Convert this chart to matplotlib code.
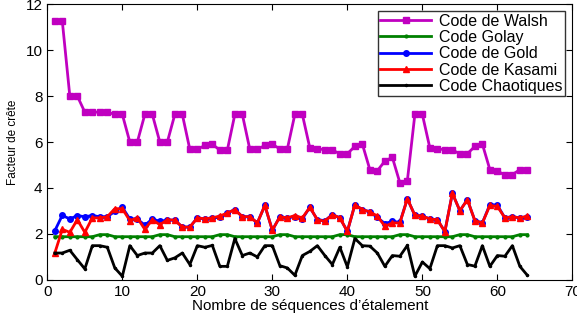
import numpy as np
import matplotlib
matplotlib.use('Agg')
import matplotlib.pyplot as plt

plt.rcParams['font.family'] = ['Liberation Sans', 'DejaVu Sans']

# nombre de sequences 1..64
n = list(range(1, 65))

walsh = [11.25, 11.25, 8.0, 8.0, 7.3, 7.3, 7.3, 7.3, 7.2, 7.2,
         6.0, 6.0, 7.2, 7.2, 6.0, 6.0, 7.2, 7.2, 5.68, 5.68,
         5.85, 5.9, 5.65, 5.65, 7.2, 7.2, 5.68, 5.68, 5.85, 5.9,
         5.7, 5.7, 7.2, 7.2, 5.74, 5.7, 5.67, 5.65, 5.49, 5.49,
         5.81, 5.91, 4.8, 4.75, 5.17, 5.33, 4.23, 4.32, 7.2, 7.2,
         5.74, 5.7, 5.67, 5.65, 5.49, 5.49, 5.81, 5.91, 4.8, 4.75,
         4.55, 4.58, 4.8, 4.77]

golay = [1.88, 1.88, 1.88, 1.88, 1.88, 1.88, 1.97, 1.97, 1.88, 1.88,
         1.88, 1.88, 1.88, 1.88, 1.97, 1.97, 1.88, 1.88, 1.88, 1.88,
         1.88, 1.88, 1.97, 1.97, 1.88, 1.88, 1.88, 1.88, 1.88, 1.88,
         1.97, 1.97, 1.88, 1.88, 1.88, 1.88, 1.88, 1.88, 1.97, 1.97,
         1.88, 1.88, 1.88, 1.88, 1.88, 1.88, 1.97, 1.97, 1.88, 1.88,
         1.88, 1.88, 1.88, 1.88, 1.97, 1.97, 1.88, 1.88, 1.88, 1.88,
         1.88, 1.88, 1.97, 1.97]

gold = [2.14, 2.81, 2.65, 2.8, 2.75, 2.8, 2.75, 2.75, 2.98, 3.16,
        2.65, 2.65, 2.38, 2.65, 2.55, 2.6, 2.6, 2.3, 2.3, 2.7,
        2.65, 2.7, 2.72, 2.91, 3.06, 2.75, 2.75, 2.48, 3.24, 2.16,
        2.75, 2.7, 2.75, 2.66, 3.16, 2.62, 2.58, 2.84, 2.7, 2.11,
        3.27, 3.06, 2.96, 2.72, 2.45, 2.55, 2.5, 3.53, 2.81, 2.78,
        2.65, 2.62, 2.1, 3.77, 3.01, 3.49, 2.58, 2.48, 3.28, 3.25,
        2.7, 2.75, 2.7, 2.72]

kasami = [1.17, 2.2, 2.07, 2.62, 2.07, 2.7, 2.7, 2.75, 3.1, 3.1,
          2.58, 2.7, 2.2, 2.62, 2.4, 2.62, 2.6, 2.3, 2.3, 2.7,
          2.66, 2.7, 2.78, 2.91, 3.06, 2.75, 2.75, 2.48, 3.24, 2.16,
          2.75, 2.7, 2.8, 2.7, 3.16, 2.62, 2.55, 2.84, 2.7, 2.11,
          3.27, 3.06, 2.96, 2.78, 2.33, 2.48, 2.48, 3.53, 2.81, 2.78,
          2.65, 2.62, 2.1, 3.77, 3.01, 3.49, 2.58, 2.48, 3.24, 3.2,
          2.7, 2.75, 2.7, 2.78]

chaos = [1.17, 1.17, 1.29, 0.88, 0.48, 1.49, 1.49, 1.42, 0.52, 0.16,
         1.49, 1.06, 1.17, 1.17, 1.49, 0.85, 0.96, 1.17, 0.67, 1.49,
         1.42, 1.5, 0.59, 0.59, 1.8, 1.06, 1.17, 1.0, 1.49, 1.49,
         0.62, 0.52, 0.2, 1.06, 1.24, 1.49, 1.06, 0.67, 1.42, 0.57,
         1.8, 1.49, 1.47, 1.17, 0.59, 1.06, 1.03, 1.5, 0.16, 0.78,
         0.49, 1.49, 1.49, 1.39, 1.49, 0.67, 0.6, 1.49, 0.59, 1.06,
         1.03, 1.49, 0.59, 0.2]

fig = plt.figure(figsize=(5.77, 3.17), dpi=100)
ax = fig.add_axes([0.082, 0.117, 0.910, 0.87])

ax.plot(n, walsh, color='#C000C0', lw=2, marker='s', ms=4.5, label='Code de Walsh')
ax.plot(n, golay, color='#008000', lw=2, marker='.', ms=4, label='Code Golay')
ax.plot(n, gold, color='#0000FF', lw=2, marker='o', ms=4, label='Code de Gold')
ax.plot(n, kasami, color='#FF0000', lw=2, marker='^', ms=5, label='Code de Kasami')
ax.plot(n, chaos, color='black', lw=2, marker='.', ms=3, label='Code Chaotiques')

ax.set_xlim(0, 70)
ax.set_ylim(0, 12)
ax.set_xticks(range(0, 71, 10))
ax.set_yticks(range(0, 13, 2))
ax.tick_params(direction='in', top=True, right=True, labelsize=11, length=4)
ax.tick_params(axis='x', pad=4)
ax.set_xlabel("Nombre de séquences d\u2019étalement", fontsize=11, labelpad=0)
ax.set_ylabel('Facteur de crête', fontsize=8.5, labelpad=5)

leg = ax.legend(loc='upper right', fontsize=11.5, handlelength=3.2, frameon=True,
                fancybox=False, edgecolor='black', borderaxespad=0.45,
                labelspacing=0.08, borderpad=0.15, handletextpad=0.5)
leg.get_frame().set_linewidth(1)

fig.savefig('out.png', dpi=100)
